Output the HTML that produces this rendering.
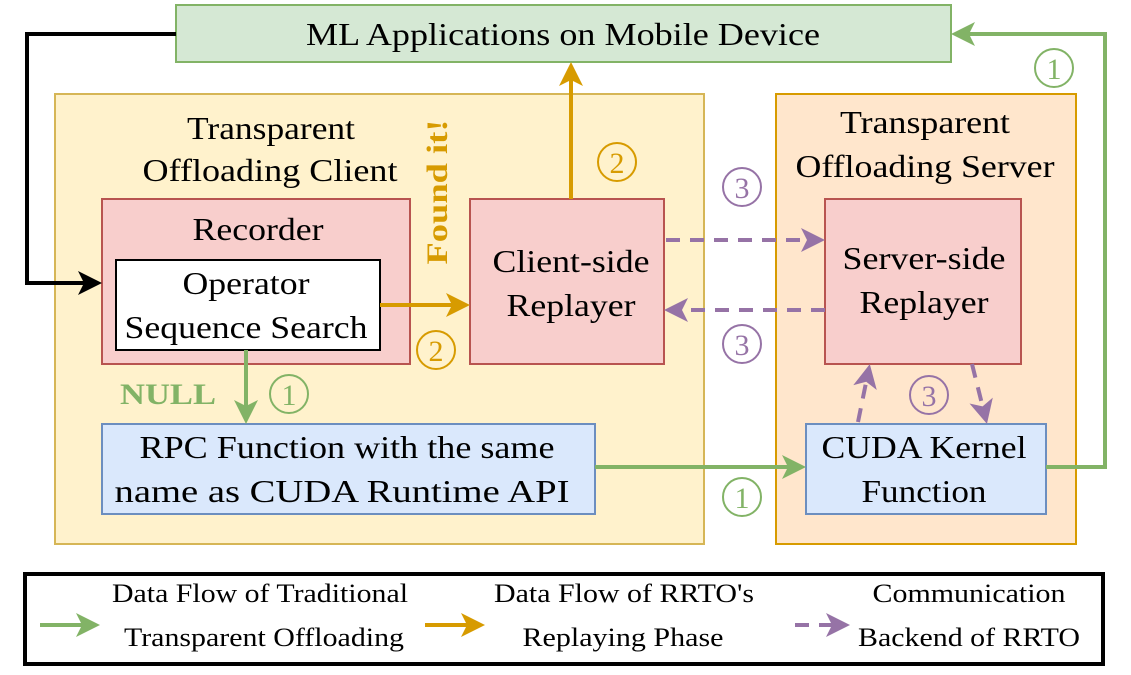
<!DOCTYPE html>
<html><head><meta charset="utf-8"><style>
html,body{margin:0;padding:0;background:#fff;}
svg{display:block;}
text{font-family:"Liberation Serif","Times New Roman",serif;}
</style></head><body>
<svg width="1131" height="675" viewBox="0 0 1131 675" xmlns="http://www.w3.org/2000/svg">
<defs>
<marker id="ak" markerWidth="6" markerHeight="6" refX="5" refY="3" orient="auto" markerUnits="strokeWidth"><path d="M0,0 L6,3 L0,6 L1.5,3z" fill="#000"/></marker>
<marker id="ag" markerWidth="6" markerHeight="6" refX="5" refY="3" orient="auto" markerUnits="strokeWidth"><path d="M0,0 L6,3 L0,6 L1.5,3z" fill="#82b366"/></marker>
<marker id="ao" markerWidth="6" markerHeight="6" refX="5" refY="3" orient="auto" markerUnits="strokeWidth"><path d="M0,0 L6,3 L0,6 L1.5,3z" fill="#d79b00"/></marker>
<marker id="ap" markerWidth="6" markerHeight="6" refX="5" refY="3" orient="auto" markerUnits="strokeWidth"><path d="M0,0 L6,3 L0,6 L1.5,3z" fill="#9673a6"/></marker>
</defs>
<rect x="176" y="5" width="775" height="57" fill="#d5e8d4" stroke="#82b366" stroke-width="2"/>
<g font-size="32" text-anchor="middle">
<text x="563" y="45" textLength="514" lengthAdjust="spacingAndGlyphs">ML Applications on Mobile Device</text>
</g>
<rect x="55" y="94" width="649" height="450" fill="#fff2cc" stroke="#d6b656" stroke-width="2"/>
<rect x="776" y="94" width="300" height="450" fill="#ffe6cc" stroke="#d79b00" stroke-width="2"/>
<rect x="102" y="199" width="308" height="165" fill="#f8cecc" stroke="#b85450" stroke-width="2"/>
<rect x="116" y="260" width="264" height="90" fill="#fff" stroke="#000" stroke-width="2"/>
<rect x="470" y="199" width="194" height="165" fill="#f8cecc" stroke="#b85450" stroke-width="2"/>
<rect x="825" y="199" width="196" height="165" fill="#f8cecc" stroke="#b85450" stroke-width="2"/>
<rect x="102" y="424" width="493" height="90" fill="#dae8fc" stroke="#6c8ebf" stroke-width="2"/>
<rect x="806" y="424" width="240" height="90" fill="#dae8fc" stroke="#6c8ebf" stroke-width="2"/>
<g font-size="32" text-anchor="middle" lengthAdjust="spacingAndGlyphs">
<text x="271" y="139" textLength="168" lengthAdjust="spacingAndGlyphs">Transparent</text>
<text x="270" y="181" textLength="255" lengthAdjust="spacingAndGlyphs">Offloading Client</text>
<text x="925" y="133" textLength="170" lengthAdjust="spacingAndGlyphs">Transparent</text>
<text x="925" y="177" textLength="259" lengthAdjust="spacingAndGlyphs">Offloading Server</text>
<text x="258" y="240" textLength="131" lengthAdjust="spacingAndGlyphs">Recorder</text>
<text x="246" y="294" textLength="127" lengthAdjust="spacingAndGlyphs">Operator</text>
<text x="246" y="338" textLength="243" lengthAdjust="spacingAndGlyphs">Sequence Search</text>
<text x="571" y="272" textLength="157" lengthAdjust="spacingAndGlyphs">Client-side</text>
<text x="571" y="316" textLength="129" lengthAdjust="spacingAndGlyphs">Replayer</text>
<text x="924" y="269" textLength="163" lengthAdjust="spacingAndGlyphs">Server-side</text>
<text x="924" y="313" textLength="129" lengthAdjust="spacingAndGlyphs">Replayer</text>
<text x="347" y="458" textLength="415" lengthAdjust="spacingAndGlyphs">RPC Function with the same</text>
<text x="342" y="502" textLength="455" lengthAdjust="spacingAndGlyphs">name as CUDA Runtime API</text>
<text x="924" y="458" textLength="205" lengthAdjust="spacingAndGlyphs">CUDA Kernel</text>
<text x="924" y="502" textLength="125" lengthAdjust="spacingAndGlyphs">Function</text>
</g>
<!-- arrows -->
<polyline points="176,34 27,34 27,283 98,283" fill="none" stroke="#000" stroke-width="4" marker-end="url(#ak)"/>
<polyline points="1046,467 1105,467 1105,34 955,34" fill="none" stroke="#82b366" stroke-width="4" marker-end="url(#ag)"/>
<line x1="595" y1="467" x2="802" y2="467" stroke="#82b366" stroke-width="4" marker-end="url(#ag)"/>
<line x1="246" y1="350" x2="246" y2="420" stroke="#82b366" stroke-width="4" marker-end="url(#ag)"/>
<line x1="380" y1="305" x2="466" y2="305" stroke="#d79b00" stroke-width="4" marker-end="url(#ao)"/>
<line x1="571" y1="199" x2="571" y2="66" stroke="#d79b00" stroke-width="4" marker-end="url(#ao)"/>
<line x1="666" y1="240" x2="821" y2="240" stroke="#9673a6" stroke-width="4" stroke-dasharray="14,10" marker-end="url(#ap)"/>
<line x1="825" y1="310" x2="668" y2="310" stroke="#9673a6" stroke-width="4" stroke-dasharray="14,10" marker-end="url(#ap)"/>
<line x1="858" y1="422" x2="869" y2="368" stroke="#9673a6" stroke-width="4" stroke-dasharray="14,10" marker-end="url(#ap)"/>
<line x1="972" y1="364" x2="986" y2="420" stroke="#9673a6" stroke-width="4" stroke-dasharray="14,10" marker-end="url(#ap)"/>
<!-- circled numbers -->
<g font-size="30" text-anchor="middle" stroke-width="2" fill="none">
<circle cx="1054" cy="68" r="19" stroke="#82b366"/><text x="1054" y="79" fill="#82b366">1</text>
<circle cx="617" cy="162" r="19" stroke="#d79b00"/><text x="617" y="173" fill="#d79b00">2</text>
<circle cx="742" cy="187" r="19" stroke="#9673a6"/><text x="742" y="198" fill="#9673a6">3</text>
<circle cx="742" cy="344" r="19" stroke="#9673a6"/><text x="742" y="355" fill="#9673a6">3</text>
<circle cx="436" cy="350" r="19" stroke="#d79b00"/><text x="436" y="361" fill="#d79b00">2</text>
<circle cx="289" cy="394" r="19" stroke="#82b366"/><text x="289" y="405" fill="#82b366">1</text>
<circle cx="742" cy="497" r="19" stroke="#82b366"/><text x="742" y="508" fill="#82b366">1</text>
<circle cx="929" cy="395" r="19" stroke="#9673a6"/><text x="929" y="406" fill="#9673a6">3</text>
</g>
<text x="168" y="404" font-size="30" font-weight="bold" fill="#82b366" text-anchor="middle" textLength="96" lengthAdjust="spacingAndGlyphs">NULL</text>
<text transform="translate(447,192) rotate(-90)" font-size="30" font-weight="bold" fill="#d79b00" text-anchor="middle" textLength="145" lengthAdjust="spacingAndGlyphs">Found it!</text>
<!-- legend -->
<rect x="25" y="574" width="1078" height="90" fill="#fff" stroke="#000" stroke-width="4"/>
<line x1="40" y1="625" x2="96" y2="625" stroke="#82b366" stroke-width="4" marker-end="url(#ag)"/>
<line x1="425" y1="625" x2="481" y2="625" stroke="#d79b00" stroke-width="4" marker-end="url(#ao)"/>
<line x1="795" y1="625" x2="846" y2="625" stroke="#9673a6" stroke-width="4" stroke-dasharray="14,10" marker-end="url(#ap)"/>
<g font-size="26" text-anchor="middle">
<text x="260" y="602" textLength="296" lengthAdjust="spacingAndGlyphs">Data Flow of Traditional</text>
<text x="264" y="646" textLength="280" lengthAdjust="spacingAndGlyphs">Transparent Offloading</text>
<text x="624" y="602" textLength="260" lengthAdjust="spacingAndGlyphs">Data Flow of RRTO's</text>
<text x="623" y="646" textLength="201" lengthAdjust="spacingAndGlyphs">Replaying Phase</text>
<text x="969" y="602" textLength="193" lengthAdjust="spacingAndGlyphs">Communication</text>
<text x="969" y="646" textLength="222" lengthAdjust="spacingAndGlyphs">Backend of RRTO</text>
</g>
</svg>
</body></html>
